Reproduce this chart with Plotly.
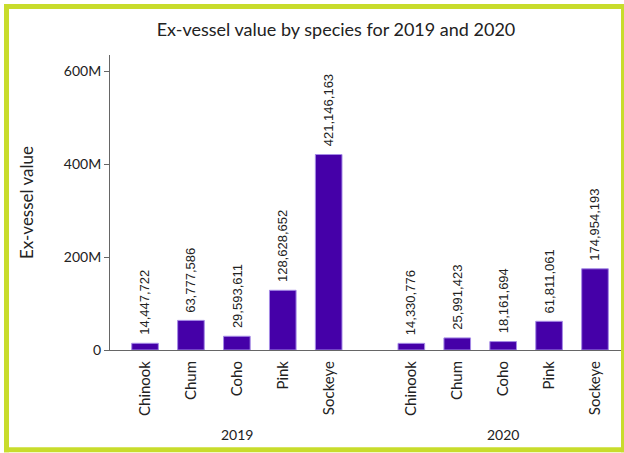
import plotly.graph_objects as go

years = ["2019", "2020"]
species = ["Chinook", "Chum", "Coho", "Pink", "Sockeye"]
values_2019 = [14447722, 63777586, 29593611, 128628652, 421146163]
values_2020 = [14330776, 25991423, 18161694, 61811061, 174954193]
y_tickvals = [0, 200e6, 400e6, 600e6]
y_ticktext = ["0", "200M", "400M", "600M"]

GROUP_GAP = 0.8
series = [values_2019, values_2020]

xs, ys, labels, tick_text = [], [], [], []
group_centers = []
for gi, vals in enumerate(series):
    start = gi * (len(species) + GROUP_GAP)
    pos = [start + i for i in range(len(species))]
    group_centers.append(sum(pos) / len(pos))
    xs += pos
    ys += vals
    labels += [f"{v:,}" for v in vals]
    tick_text += species

BAR = "#4500a8"
TXT = "#222222"
FONT = "Lato"

fig = go.Figure()
fig.add_trace(go.Bar(
    x=xs, y=ys, width=0.58,
    marker=dict(color=BAR, line=dict(color="#a58ae6", width=1)),
    hoverinfo="skip",
))

for x, y, t in zip(xs, ys, labels):
    fig.add_annotation(x=x, y=y, xref="x", yref="y", text=t, textangle=-90,
                       showarrow=False, yanchor="bottom", xanchor="center", yshift=6,
                       font=dict(family="Liberation Sans", size=13, color=TXT))

fig.update_layout(
    width=624, height=453,
    margin=dict(l=110, r=1, t=55, b=102.5, autoexpand=False),
    paper_bgcolor="white", plot_bgcolor="white",
    showlegend=False,
    font=dict(family=FONT, color=TXT, size=14),
    title=dict(text="Ex-vessel value by species for 2019 and 2020",
               x=336/624, xref="container", xanchor="center",
               y=1-30/453, yref="container", yanchor="middle",
               font=dict(family=FONT, size=18, color=TXT)),
)
fig.update_xaxes(
    range=[-0.763, 10.41], tickvals=xs, ticktext=tick_text, tickangle=-90,
    showline=True, linecolor="#666666", linewidth=1, ticks="", automargin=False,
    ticklabelstandoff=4,
    showgrid=False, zeroline=False, tickfont=dict(family=FONT, size=15, color=TXT),
)
fig.update_yaxes(
    range=[0, 635.5e6], tickvals=y_tickvals, ticktext=y_ticktext, automargin=False,
    showline=True, linecolor="#666666", linewidth=1, ticks="outside",
    ticklen=5, tickcolor="#666666", showgrid=False, zeroline=False,
    tickfont=dict(family=FONT, size=14, color=TXT),
    title=dict(text="Ex-vessel value", font=dict(family=FONT, size=17, color=TXT), standoff=25),
)

for yr, cx in zip(years, group_centers):
    fig.add_annotation(x=cx, xref="x", y=(350.5-435)/295.5, yref="paper",
                       text=yr, showarrow=False, yanchor="middle",
                       font=dict(family=FONT, size=14, color=TXT))

# border frame (pixel -> paper coords)
L, R, T, B = 110, 623, 55, 350.5
def px(xp): return (xp - L) / (R - L)
def py(yp): return (B - yp) / (B - T)
BORDER = "#c8dc2c"
for x0, y0, x1, y1 in [(4, 4, 624, 9), (4, 448, 624, 453), (4, 4, 9, 453), (621, 4, 624, 453)]:
    fig.add_shape(type="rect", xref="paper", yref="paper",
                  x0=px(x0), x1=px(x1), y0=py(y1), y1=py(y0),
                  fillcolor=BORDER, line=dict(width=0), layer="above")

fig.write_html("out.html", config={"responsive": False, "displayModeBar": False},
               post_script="document.body.style.margin='0';document.body.style.overflow='hidden';")
